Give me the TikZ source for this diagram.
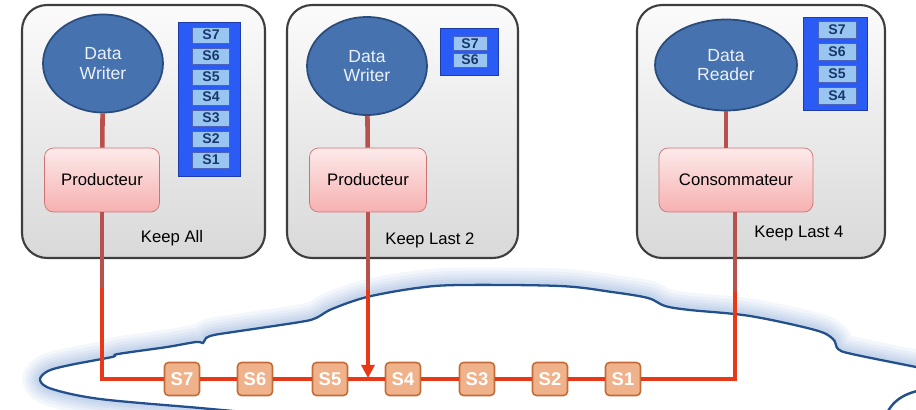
\documentclass[tikz,border=0pt]{standalone}
\usepackage{fontspec}
\setmainfont{Liberation Sans}
\usetikzlibrary{arrows.meta,shapes.geometric,positioning}

\definecolor{boxedge}{RGB}{62,62,62}
\definecolor{ovalfill}{RGB}{70,115,175}
\definecolor{ovaledge}{RGB}{42,76,124}
\definecolor{ovaltext}{RGB}{236,241,248}
\definecolor{prodedge}{RGB}{205,115,115}
\definecolor{prodtop}{RGB}{253,234,234}
\definecolor{prodbot}{RGB}{246,176,176}
\definecolor{stackfill}{RGB}{42,92,245}
\definecolor{stackedge}{RGB}{30,60,170}
\definecolor{cellfill}{RGB}{152,198,240}
\definecolor{celltext}{RGB}{25,55,110}
\definecolor{pktfill}{RGB}{240,178,138}
\definecolor{pktedge}{RGB}{196,108,56}
\definecolor{linkdark}{RGB}{185,80,75}
\definecolor{linkred}{RGB}{232,56,24}
\definecolor{cloudglow}{RGB}{105,145,205}
\definecolor{cloudedge}{RGB}{35,80,140}

% upper rim of the cloud, pixel units
\newcommand{\cloudrim}{plot[smooth,tension=0.55] coordinates {(255,413) (200,408) (100,399) (52,389) (40,380) (48,371) (70,365) (112,357) (118,354) (167,347) (196,342) (203,343) (206,338) (214,335) (233,332) (300,322) (316,318) (332,309) (367,297) (417,288) (460,285) (560,286) (612,292) (648,298) (665,306) (690,310) (750,316) (815,330) (833,339) (838,349) (852,354) (916,367) (935,371)}}
\newcommand{\cloudlobe}{(935,388) .. controls (905,391) and (893,400) .. (886,415)}

\begin{document}
\begin{tikzpicture}[x=0.02cm, y=-0.02cm,
    hostbox/.style={draw=boxedge, line width=1.2pt, rounded corners=0.5cm,
        top color=gray!3, bottom color=gray!30, minimum height=5.06cm},
    oval/.style={ellipse, draw=ovaledge, line width=1pt, fill=ovalfill, text=ovaltext,
        align=center, font=\fontsize{10}{11}\selectfont},
    prod/.style={rounded corners=0.18cm, draw=prodedge, top color=prodtop, bottom color=prodbot,
        minimum height=1.28cm, font=\fontsize{9.5}{11}\selectfont},
    qstack/.style={draw=stackedge, fill=stackfill},
    cell/.style={draw=stackedge!80, fill=cellfill, text=celltext, inner sep=0pt,
        font=\bfseries\fontsize{8}{8}\selectfont},
    pkt/.style={draw=pktedge, line width=0.9pt, fill=pktfill, text=white, rounded corners=0.08cm,
        minimum width=0.7cm, minimum height=0.66cm, inner sep=0pt, font=\bfseries\fontsize{10.5}{11}\selectfont},
    note/.style={font=\fontsize{9.5}{11}\selectfont},
    glow/.style={cloudglow, opacity=0.08},
    dark/.style={linkdark, line width=2.6pt},
    wire/.style={linkred, line width=1.8pt}]

    \useasboundingbox (0,0) rectangle (916,409);

    % Cloud
    \begin{scope}
    \clip (0,0) rectangle (916,409);
    \draw[glow, line width=0.7cm] \cloudrim;
    \draw[glow, line width=0.56cm] \cloudrim;
    \draw[glow, line width=0.44cm] \cloudrim;
    \draw[glow, line width=0.33cm] \cloudrim;
    \draw[glow, line width=0.23cm] \cloudrim;
    \draw[glow, line width=0.14cm] \cloudrim;
    \draw[glow, line width=0.5cm] \cloudlobe;
    \draw[glow, line width=0.34cm] \cloudlobe;
    \draw[glow, line width=0.2cm] \cloudlobe;
    \fill[white] \cloudrim -- (935,440) -- (240,440) -- cycle;
    \draw[cloudedge, line width=1.3pt] \cloudrim;
    \draw[cloudedge, line width=1.4pt] \cloudlobe;
    \end{scope}

    % Hosts
    \node[hostbox, minimum width=4.86cm] (h1) at (143.5,131.5) {};
    \node[hostbox, minimum width=4.62cm] (h2) at (402.5,131.5) {};
    \node[hostbox, minimum width=4.96cm] (h3) at (761,131.5) {};

    \node[oval, minimum width=2.4cm, minimum height=1.96cm] (e1) at (103,63.5) {Data\\Writer};
    \node[oval, minimum width=2.4cm, minimum height=1.96cm] (e2) at (367,66) {Data\\Writer};
    \node[oval, minimum width=2.84cm, minimum height=1.82cm] (e3) at (726,65) {Data\\Reader};

    \node[prod, minimum width=2.3cm] (p1) at (102,180) {Producteur};
    \node[prod, minimum width=2.34cm] (p2) at (368,180) {Producteur};
    \node[prod, minimum width=3.08cm] (p3) at (736,180) {Consommateur};

    \node[note] (keep1) at (172,238) {Keep All};
    \node[note] (keep2) at (430,240) {Keep Last 2};
    \node[note] (keep3) at (799,233) {Keep Last 4};

    % History queues
    \node[qstack, minimum width=1.24cm, minimum height=3.08cm] (q1) at (209,99) {};
    \node[cell, minimum width=0.74cm, minimum height=0.32cm] (qa7) at (211,35) {S7};
    \node[cell, minimum width=0.74cm, minimum height=0.32cm] (qa6) at (211,56) {S6};
    \node[cell, minimum width=0.74cm, minimum height=0.32cm] (qa5) at (211,77) {S5};
    \node[cell, minimum width=0.74cm, minimum height=0.32cm] (qa4) at (211,97) {S4};
    \node[cell, minimum width=0.74cm, minimum height=0.32cm] (qa3) at (211,118) {S3};
    \node[cell, minimum width=0.74cm, minimum height=0.32cm] (qa2) at (211,139) {S2};
    \node[cell, minimum width=0.74cm, minimum height=0.32cm] (qa1) at (211,160) {S1};

    \node[qstack, minimum width=1.16cm, minimum height=0.94cm] (q2) at (469,51.5) {};
    \node[cell, minimum width=0.68cm, minimum height=0.28cm] (qb7) at (470,43.5) {S7};
    \node[cell, minimum width=0.68cm, minimum height=0.28cm] (qb6) at (470,60) {S6};

    \node[qstack, minimum width=1.28cm, minimum height=1.86cm] (q3) at (835,63.5) {};
    \node[cell, minimum width=0.76cm, minimum height=0.34cm] (qc7) at (837,30) {S7};
    \node[cell, minimum width=0.76cm, minimum height=0.34cm] (qc6) at (837,51.5) {S6};
    \node[cell, minimum width=0.76cm, minimum height=0.34cm] (qc5) at (837,73.5) {S5};
    \node[cell, minimum width=0.76cm, minimum height=0.34cm] (qc4) at (837,95.5) {S4};

    % Samples on the wire
    \node[pkt] (m7) at (182,379) {S7};
    \node[pkt] (m6) at (255,379) {S6};
    \node[pkt] (m5) at (330,379) {S5};
    \node[pkt] (m4) at (403,379) {S4};
    \node[pkt] (m3) at (477,379) {S3};
    \node[pkt] (m2) at (550,379) {S2};
    \node[pkt] (m1) at (623,379) {S1};

    \coordinate (d1) at (102,288);
    \coordinate (d2) at (368,290);
    \coordinate (d3) at (735,292);
    \coordinate (j1) at (102,379);
    \coordinate (j2) at (368,378);
    \coordinate (j3) at (735,379);

    % Links
    \draw[dark] (e1) -- (p1);
    \draw[dark] (e2) -- (p2);
    \draw[dark] (e3) -- (e3 |- p3.north);
    \draw[dark] (p1) -- (d1);
    \draw[dark] (p2) -- (d2);
    \draw[dark] (p3.south -| d3) -- (d3);

    \draw[wire] (d1) -- (j1) -- (m7) -- (m6) -- (m5) -- (m4) -- (m3) -- (m2) -- (m1) -- (j3) -- (d3);
    \draw[wire, -{Triangle[length=7.5pt, width=7.5pt]}] (d2) -- (j2);

    \end{tikzpicture}
\end{document}
